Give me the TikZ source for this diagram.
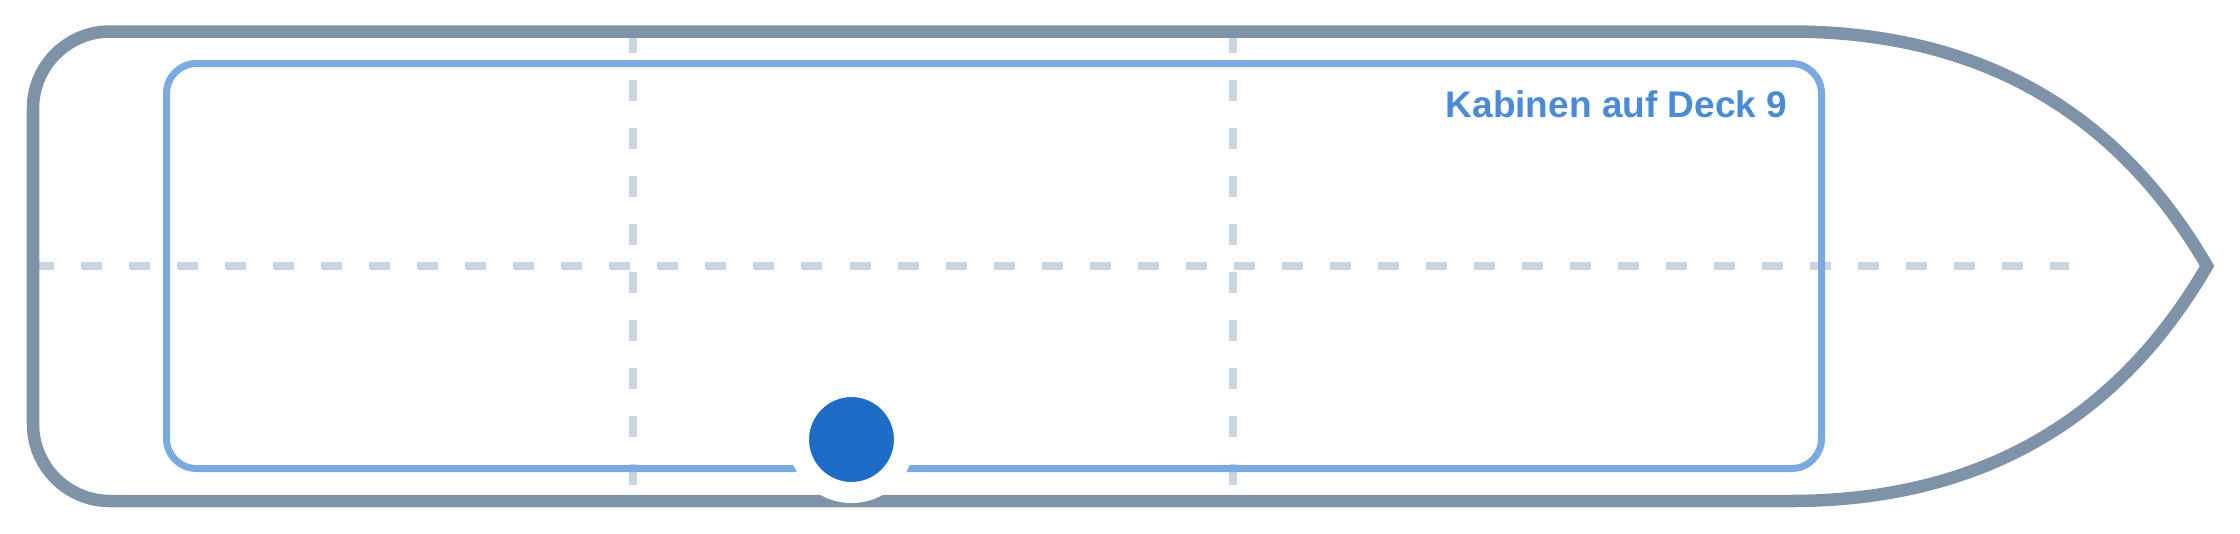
\documentclass[tikz,border=0pt]{standalone}
\usepackage{fontspec}
\setmainfont{Liberation Sans}
\usepackage{xcolor}
\usepackage{tikz}
\definecolor{hullgray}{HTML}{7F93A8}
\definecolor{deckblue}{HTML}{7AAAE0}
\definecolor{gridgray}{HTML}{C9D5E1}
\definecolor{cabinblue}{HTML}{1C6CC8}
\definecolor{labelblue}{HTML}{4A8AD6}

\begin{document}
\begin{tikzpicture}[
    x=0.01cm, y=-0.01cm,
    hull/.style={draw=hullgray, line width=0.125cm},
    deck/.style={draw=deckblue, line width=0.07cm, rounded corners=0.3cm},
    grid/.style={draw=gridgray, line width=0.077cm, dash pattern=on 0.21cm off 0.27cm},
    cabin/.style={circle, fill=cabinblue, draw=white, line width=0.21cm, minimum size=1.06cm, inner sep=0pt},
    caption/.style={anchor=base east, inner sep=0pt, text=labelblue, font=\fontsize{10.53pt}{12pt}\selectfont\bfseries}
]
\useasboundingbox (0,0) rectangle (2240,533);

\draw[grid] (33,266) -- (2069,266);
\draw[grid] (633,31.5) -- (633,501);
\draw[grid] (1233,31.5) -- (1233,501);

\draw[hull] (2207,266) .. controls (2116.3,109.7) and (1977.3,31.5) .. (1790,31.5)
    -- (110,31.5) arc[start angle=270, end angle=180, radius=77]
    -- (33,424) arc[start angle=180, end angle=90, radius=77]
    -- (1790,501) .. controls (1977.3,501) and (2116.3,422.3) .. (2207,266) -- cycle;

\draw[deck] (166.5,63.5) rectangle (1821.5,468.5);

\node[caption] (deck9) at (1788,117) {Kabinen auf Deck 9};
\node[cabin] (cabin) at (851.5,439.5) {};
\end{tikzpicture}
\end{document}
